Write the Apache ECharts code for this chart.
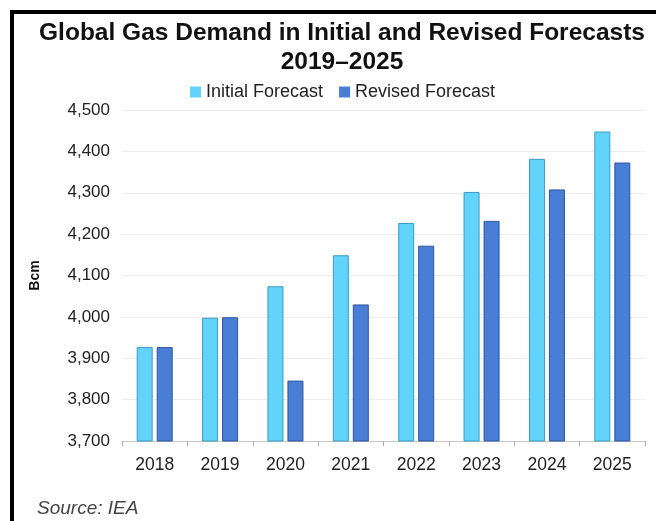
<!DOCTYPE html>
<html>
<head>
<meta charset="utf-8">
<script src="https://cdn.jsdelivr.net/npm/echarts@6/dist/echarts.min.js"></script>
<style>
  html, body { margin: 0; padding: 0; background: #fff; }
  #chart { width: 656px; height: 521px; }
</style>
</head>
<body>
<div id="chart"></div>
<script>
// Global gas demand, billion cubic metres
const years = ['2018', '2019', '2020', '2021', '2022', '2023', '2024', '2025'];
const initialForecast = [3927, 3998, 4074, 4149, 4227, 4302, 4382, 4448];
const revisedForecast = [3927, 3999, 3846, 4030, 4172, 4232, 4308, 4373];
const yTicks = { min: 3700, max: 4500, step: 100 };

const FONT = '"Liberation Sans", Arial, sans-serif';
const chart = echarts.init(document.getElementById('chart'), null, { renderer: 'canvas' });

chart.setOption({
  animation: false,
  backgroundColor: '#ffffff',
  title: [
    {
      text: 'Global Gas Demand in Initial and Revised Forecasts\n2019\u20132025',
      left: 337, top: 14, textAlign: 'center',
      textStyle: { fontFamily: FONT, fontSize: 24.5, fontWeight: 'bold', color: '#111', lineHeight: 29 }
    },
    {
      text: 'Source: IEA',
      left: 32, top: 494,
      textStyle: { fontFamily: FONT, fontSize: 19, fontStyle: 'italic', fontWeight: 'normal', color: '#444' }
    }
  ],
  legend: {
    top: 78, left: 185,
    itemWidth: 11, itemHeight: 11, itemGap: 16,
    icon: 'rect',
    itemStyle: { borderWidth: 0 },
    textStyle: { fontFamily: FONT, fontSize: 18, color: '#222' },
    data: ['Initial Forecast', 'Revised Forecast']
  },
  grid: { left: 122, right: 11, top: 110, bottom: 80, containLabel: false },
  xAxis: {
    type: 'category',
    data: years,
    axisLine: { lineStyle: { color: '#c8c8c8', width: 1 } },
    axisTick: { show: true, length: 5, lineStyle: { color: '#aaa' } },
    axisLabel: { fontFamily: FONT, fontSize: 17.5, color: '#222', margin: 15 }
  },
  yAxis: {
    type: 'value',
    min: yTicks.min, max: yTicks.max, interval: yTicks.step,
    name: 'Bcm', nameLocation: 'middle', nameGap: 80, nameRotate: 90,
    nameTextStyle: { fontFamily: FONT, fontSize: 14, fontWeight: 'bold', color: '#111' },
    axisLine: { show: false },
    axisTick: { show: false },
    splitLine: { lineStyle: { color: '#ececec', width: 1 } },
    axisLabel: {
      fontFamily: FONT, fontSize: 17, color: '#222', margin: 12,
      formatter: v => v.toLocaleString('en-US')
    }
  },
  series: [
    {
      name: 'Initial Forecast', type: 'bar', data: initialForecast,
      barWidth: 16, barGap: '25%',
      itemStyle: { color: '#62d4fb', borderColor: '#3a9cc0', borderWidth: 1 }
    },
    {
      name: 'Revised Forecast', type: 'bar', data: revisedForecast,
      barWidth: 16, barGap: '25%',
      itemStyle: { color: '#4a7dd6', borderColor: '#2c559f', borderWidth: 1 }
    }
  ],
  graphic: [
    // frame lines along the top and left edges
    { type: 'rect', shape: { x: 10, y: 10, width: 646, height: 4 }, style: { fill: '#000' } },
    { type: 'rect', shape: { x: 10, y: 10, width: 4, height: 511 }, style: { fill: '#000' } }
  ]
});
</script>
</body>
</html>
